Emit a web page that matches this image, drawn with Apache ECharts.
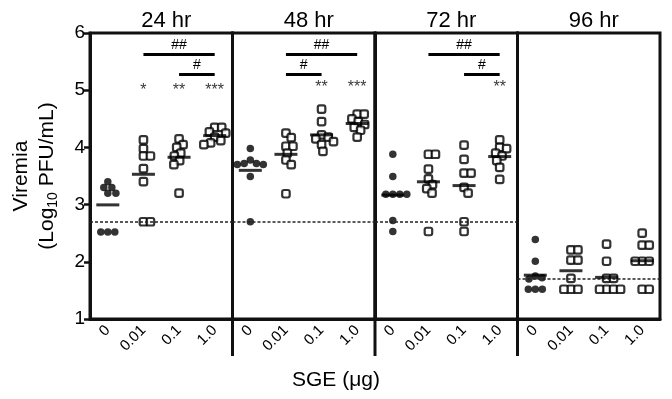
<!DOCTYPE html>
<html>
<head>
<meta charset="utf-8">
<script src="https://cdn.jsdelivr.net/npm/echarts@6/dist/echarts.min.js"></script>
<style>
  html, body { margin: 0; padding: 0; background: #fff; }
  #chart { width: 672px; height: 399px; }
</style>
</head>
<body>
<div id="chart"></div>
<script>
const categories = ['0', '0.01', '0.1', '1.0'];
const panelTitles = ['24 hr', '48 hr', '72 hr', '96 hr'];

// each panel: one array of values per SGE dose
const hr24 = [
  [3.4, 3.3, 3.3, 3.2, 3.2, 2.52, 2.52, 2.52],
  [4.13, 3.98, 3.85, 3.85, 3.63, 3.40, 2.70, 2.70],
  [4.15, 4.05, 4.0, 3.9, 3.85, 3.77, 3.7, 3.2],
  [4.35, 4.35, 4.27, 4.25, 4.18, 4.12, 4.08, 4.05],
];
const hr48 = [
  [3.98, 3.78, 3.72, 3.72, 3.7, 3.7, 3.49, 2.7],
  [4.25, 4.17, 4.02, 4.02, 3.9, 3.78, 3.7, 3.19],
  [4.67, 4.45, 4.22, 4.18, 4.15, 4.1, 4.05, 3.93],
  [4.58, 4.58, 4.5, 4.45, 4.4, 4.35, 4.3, 4.18],
];
const hr72 = [
  [3.88, 3.49, 3.18, 3.18, 3.18, 3.18, 2.72, 2.53],
  [3.88, 3.88, 3.62, 3.45, 3.35, 3.28, 3.2, 2.53],
  [4.04, 3.79, 3.55, 3.55, 3.3, 3.2, 2.7, 2.53],
  [4.13, 4.0, 3.98, 3.9, 3.85, 3.77, 3.65, 3.44],
];
const hr96 = [
  [2.39, 2.01, 1.75, 1.72, 1.7, 1.52, 1.52, 1.52],
  [2.21, 2.21, 2.03, 2.03, 1.71, 1.52, 1.52, 1.52],
  [2.31, 2.01, 1.71, 1.71, 1.52, 1.52, 1.52, 1.52],
  [2.5, 2.29, 2.29, 2.01, 2.01, 2.01, 1.52, 1.52],
];
const panelData = [hr24, hr48, hr72, hr96];

// limit of detection per panel
const detectionLimit = [2.7, 2.7, 2.7, 1.7];

// asterisks above each dose
const stars = [
  ['', '*', '**', '***'],
  ['', '', '**', '***'],
  ['', '', '', '**'],
  ['', '', '', ''],
];
const starLevel = [5.0, 5.04, 5.04, 0];

// comparison bars: [from dose, to dose, level, label]
const compareBars = [
  [[1, 3, 5.63, '##'], [2, 3, 5.28, '#']],
  [[1, 3, 5.63, '##'], [1, 2, 5.28, '#']],
  [[1, 3, 5.63, '##'], [2, 3, 5.28, '#']],
  [],
];

const yTicks = [1, 2, 3, 4, 5, 6];

const FONT = '"Liberation Sans", Arial, Helvetica, sans-serif';
const GRID_LEFT = 90;
const GRID_TOP = 33;
const GRID_H = 286;
const PANEL_W = 142.5;
const PPU = GRID_H / (yTicks[yTicks.length - 1] - yTicks[0]);
const DOT = 7;

// simple beeswarm: push overlapping points sideways (pixels)
function swarm(vals) {
  const placed = [];
  return vals.slice().sort((a, b) => b - a).map((v) => {
    const y = v * PPU;
    const cands = [0];
    placed.forEach((p) => {
      const dy = Math.abs(p.y - y);
      if (dy < DOT) {
        const w = Math.sqrt(DOT * DOT - dy * dy);
        cands.push(p.x + w, p.x - w);
      }
    });
    cands.sort((a, b) => Math.abs(a) - Math.abs(b));
    const x = cands.find((c) => placed.every((p) => (p.x - c) ** 2 + (p.y - y) ** 2 >= DOT * DOT - 0.01));
    placed.push({ x, y });
    return { v, x };
  });
}

const mean = (a) => a.reduce((s, x) => s + x, 0) / a.length;

const grids = [], xAxes = [], yAxes = [], titles = [], series = [];

panelData.forEach((groups, i) => {
  const left = GRID_LEFT + i * PANEL_W;
  grids.push({
    left, top: GRID_TOP, width: PANEL_W, height: GRID_H,
    show: true, borderColor: '#111', borderWidth: 3,
  });
  titles.push({
    text: panelTitles[i], left: left + PANEL_W / 2, top: 5, textAlign: 'center',
    textStyle: { fontFamily: FONT, fontSize: 22, fontWeight: 'normal', color: '#000' },
  });
  xAxes.push({
    type: 'category', gridIndex: i, data: categories,
    axisLine: { show: true, lineStyle: { color: '#111', width: 3 } },
    axisTick: { alignWithLabel: true, length: 6, lineStyle: { color: '#111', width: 2.5 } },
    axisLabel: { rotate: 45, fontFamily: FONT, fontSize: 15, color: '#000', margin: 9 },
    splitLine: { show: false },
  });
  yAxes.push({
    type: 'value', gridIndex: i, min: 1, max: 6, interval: 1,
    axisLine: { show: true, lineStyle: { color: '#111', width: 3 } },
    axisTick: { show: i === 0, length: 6, lineStyle: { color: '#111', width: 2.5 } },
    axisLabel: { show: i === 0, fontFamily: FONT, fontSize: 19, color: '#000', margin: 5 },
    splitLine: { show: false },
    name: i === 0 ? '{n|Viremia}\n{n|(Log}{s|10}{n| PFU/mL)}' : '',
    nameLocation: 'middle', nameRotate: 90, nameGap: 30,
    nameTextStyle: {
      fontFamily: FONT, color: '#000', lineHeight: 26,
      rich: {
        n: { fontFamily: FONT, fontSize: 21, color: '#000', lineHeight: 26 },
        s: { fontFamily: FONT, fontSize: 14, color: '#000', verticalAlign: 'bottom', lineHeight: 20 },
      },
    },
  });

  const circles = [], squares = [], means = [];
  groups.forEach((vals, g) => {
    swarm(vals).forEach((p) => {
      const item = { value: [g, p.v], symbolOffset: [p.x, 0] };
      (g === 0 ? circles : squares).push(item);
    });
    means.push([g, mean(vals)]);
  });

  series.push({
    type: 'scatter', xAxisIndex: i, yAxisIndex: i, data: circles,
    symbol: 'circle', symbolSize: 7.5, itemStyle: { color: '#000' },
    markLine: {
      silent: true, symbol: 'none', label: { show: false },
      lineStyle: { color: '#222', type: [3, 2], width: 1.5 },
      data: [{ yAxis: detectionLimit[i] }],
    },
  });
  series.push({
    type: 'scatter', xAxisIndex: i, yAxisIndex: i, data: squares,
    symbol: 'roundRect', symbolSize: 7.5,
    itemStyle: { color: '#fff', borderColor: '#000', borderWidth: 2.2 },
  });
  series.push({
    type: 'scatter', xAxisIndex: i, yAxisIndex: i, data: means,
    symbol: 'rect', symbolSize: [23, 3], itemStyle: { color: '#000' }, z: 5,
  });
  series.push({
    type: 'scatter', xAxisIndex: i, yAxisIndex: i,
    data: stars[i].map((s, g) => (s ? { value: [g, starLevel[i]], name: s } : null)).filter(Boolean),
    symbolSize: 0,
    label: {
      show: true, position: 'inside', formatter: '{b}',
      fontFamily: FONT, fontSize: 16, color: '#000',
    },
    markLine: {
      silent: true, symbol: 'none',
      lineStyle: { color: '#000', type: 'solid', width: 3 },
      label: {
        show: true, position: 'insideMiddleTop', formatter: '{b}', distance: 2,
        fontFamily: FONT, fontSize: 14, color: '#000',
      },
      data: compareBars[i].map(([a, b, y, t]) => [
        { coord: [a, y], name: t },
        { coord: [b, y] },
      ]),
    },
  });
});

const chart = echarts.init(document.getElementById('chart'), null, { renderer: 'canvas' });
chart.setOption({
  animation: false,
  backgroundColor: '#fff',
  title: titles,
  grid: grids,
  xAxis: xAxes,
  yAxis: yAxes,
  series,
  graphic: [
    // panel dividers run down between the dose labels
    ...[1, 2, 3].map((k) => ({
      type: 'line',
      shape: { x1: GRID_LEFT + k * PANEL_W, y1: GRID_TOP + GRID_H, x2: GRID_LEFT + k * PANEL_W, y2: GRID_TOP + GRID_H + 37 },
      style: { stroke: '#111', lineWidth: 3 },
    })),
    {
      type: 'text', left: 'center', top: 370,
      style: { text: 'SGE (μg)', fontFamily: FONT, fontSize: 21, fill: '#000' },
    },
  ],
});
</script>
</body>
</html>
